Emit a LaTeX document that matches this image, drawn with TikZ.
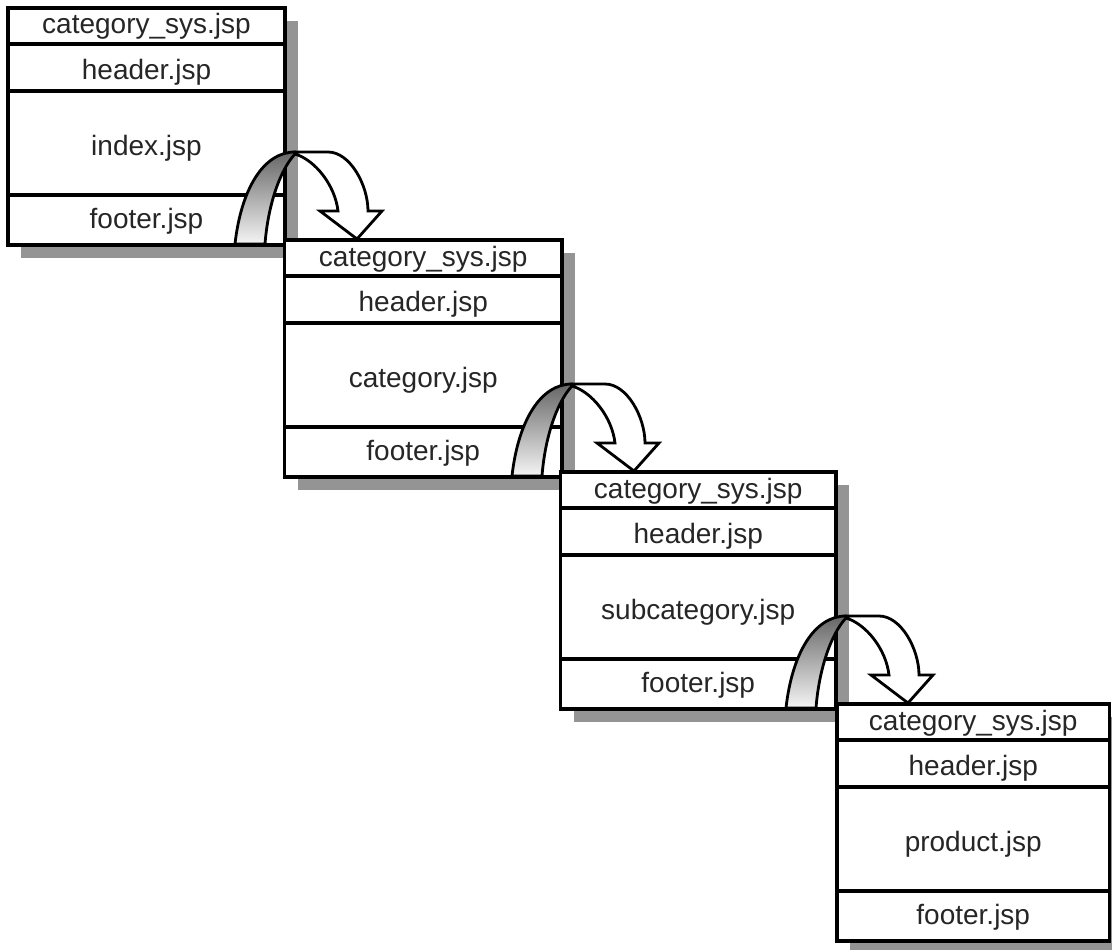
\documentclass[tikz,border=0pt]{standalone}
\usepackage{fontspec}
\setmainfont{Liberation Sans}
\begin{document}
\begin{tikzpicture}[x=1pt,y=-1pt,
  row/.style={draw=black, line width=3.2pt, fill=white, rectangle, inner sep=0pt, outer sep=0pt,
    anchor=north west, text=black!85, text depth=0pt,
    font=\fontsize{28}{30}\selectfont},
  shadowbox/.style={fill=black!42},
  backband/.style={draw=black, line width=2.8pt, top color=black!60, bottom color=black!4, line join=round},
  frontband/.style={draw=black, line width=2.8pt, fill=white, line join=miter}]
\useasboundingbox (0,0) rectangle (1112,950);
\clip (0,0) rectangle (1112,950);
\foreach \i/\L/\T/\W/\name in {0/8/8/277/index.jsp,1/284.5/240/277.5/category.jsp,2/560.5/472/275.5/subcategory.jsp,3/837/704/272.5/product.jsp}{
  \fill[shadowbox] (\L+13,\T+13) rectangle ++(\W,237);
  \node[row, minimum width=\W pt, minimum height=36pt, text height=16pt] (s\i) at (\L,\T) {category\_sys.jsp};
  \node[row, minimum width=\W pt, minimum height=47pt, text height=24pt] (h\i) at (s\i.south west) {header.jsp};
  \node[row, minimum width=\W pt, minimum height=104pt, text height=24pt] (m\i) at (h\i.south west) {\name};
  \node[row, minimum width=\W pt, minimum height=50pt, text height=17pt] (f\i) at (m\i.south west) {footer.jsp};
}
\foreach \i in {0,1,2}{
  \begin{scope}[shift={(f\i.south east)}]
    \path[backband] (-50,-1) .. controls (-44,-55) and (-22,-93) .. (10,-93)
      -- (10,-91) .. controls (-5,-75) and (-17,-40) .. (-20,-1) -- cycle;
    \path[frontband] (10,-93) -- (43,-93) .. controls (65,-93) and (83,-60) .. (83,-34)
      -- (97,-34) -- (72,-6) -- (35,-34) -- (53,-34)
      .. controls (50,-60) and (30,-85) .. (10,-91) -- cycle;
  \end{scope}
}
\end{tikzpicture}
\end{document}
